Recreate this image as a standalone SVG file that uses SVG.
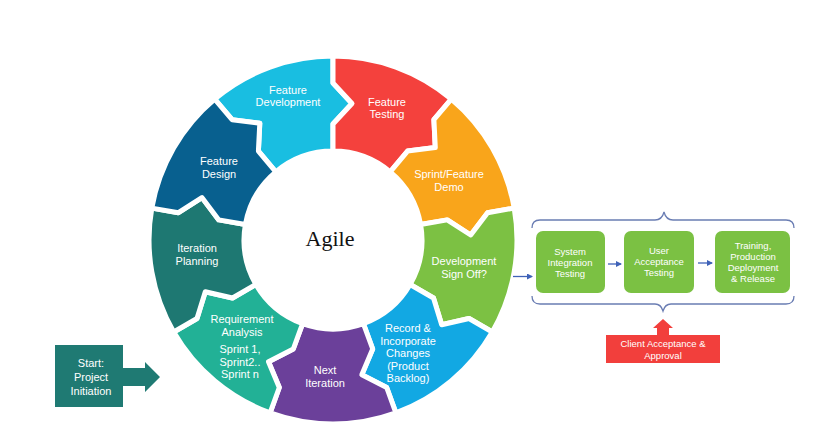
<svg xmlns="http://www.w3.org/2000/svg" width="840" height="437" viewBox="0 0 840 437">
<style>
.seg{stroke:#fff;stroke-width:5;stroke-linejoin:round}
.t{font-family:"Liberation Sans",Arial,sans-serif;fill:#fff;text-anchor:middle}
.r{font-size:11px}
.b{font-size:9.5px}
.box{fill:#7BC143}
.con{stroke:#3F62B8;stroke-width:1.3;fill:none}
.brace{stroke:#6A7DB3;stroke-width:1.3;fill:none}
</style>
<defs>
<marker id="ah" markerWidth="6" markerHeight="6" refX="5" refY="3" orient="auto" markerUnits="userSpaceOnUse">
<path d="M0,0 L6,3 L0,6 Z" fill="#3F62B8"/>
</marker>
</defs>
<rect width="840" height="437" fill="#fff"/>
<g id="feature-development">
<path class="seg" fill="#19BEE1" d="M214.7,99.1 A184,184 0 0 1 333,56 L333,83 L352,103.5 L333,124 L333,151 A89,89 0 0 0 275.8,171.8 L258.4,151.1 L259.8,123.2 L232.1,119.7 Z"/>
<text class="t r"><tspan x="288" y="93.5">Feature</tspan><tspan x="288" y="106">Development</tspan></text>
</g>
<g id="feature-testing">
<path class="seg" fill="#F4413D" d="M333,56 A184,184 0 0 1 451.3,99.1 L433.9,119.7 L435.3,147.6 L407.6,151.1 L390.2,171.8 A89,89 0 0 0 333,151 L333,124 L352,103.5 L333,83 Z"/>
<text class="t r"><tspan x="387" y="105.5">Feature</tspan><tspan x="387" y="118">Testing</tspan></text>
</g>
<g id="sprint-demo">
<path class="seg" fill="#F9A51B" d="M451.3,99.1 A184,184 0 0 1 514.2,208.1 L487.6,212.7 L470.7,235 L447.2,219.9 L420.6,224.5 A89,89 0 0 0 390.2,171.8 L407.6,151.1 L435.3,147.6 L433.9,119.7 Z"/>
<text class="t r"><tspan x="449" y="178">Sprint/Feature</tspan><tspan x="449" y="190.5">Demo</tspan></text>
</g>
<g id="dev-signoff">
<path class="seg" fill="#7CC143" d="M514.2,208.1 A184,184 0 0 1 492.3,332 L469,318.5 L441.7,324.7 L433.5,298 L410.1,284.5 A89,89 0 0 0 420.6,224.5 L447.2,219.9 L470.7,235 L487.6,212.7 Z"/>
<text class="t r"><tspan x="464" y="265">Development</tspan><tspan x="464" y="277.5">Sign Off?</tspan></text>
</g>
<g id="record-changes">
<path class="seg" fill="#12A8E3" d="M492.3,332 A184,184 0 0 1 395.9,412.9 L386.7,387.5 L361.8,374.8 L372.7,349 L363.4,323.6 A89,89 0 0 0 410.1,284.5 L433.5,298 L441.7,324.7 L469,318.5 Z"/>
<text class="t r"><tspan x="408" y="332">Record &amp;</tspan><tspan x="408" y="344.5">Incorporate</tspan><tspan x="408" y="357">Changes</tspan><tspan x="408" y="369.5">(Product</tspan><tspan x="408" y="382">Backlog)</tspan></text>
</g>
<g id="next-iteration">
<path class="seg" fill="#6B409A" d="M395.9,412.9 A184,184 0 0 1 270.1,412.9 L279.3,387.5 L268.5,361.8 L293.3,349 L302.6,323.6 A89,89 0 0 0 363.4,323.6 L372.7,349 L361.8,374.8 L386.7,387.5 Z"/>
<text class="t r"><tspan x="325" y="374">Next</tspan><tspan x="325" y="387">Iteration</tspan></text>
</g>
<g id="requirement-analysis">
<path class="seg" fill="#22B196" d="M270.1,412.9 A184,184 0 0 1 173.7,332 L197,318.5 L205.3,291.8 L232.5,298 L255.9,284.5 A89,89 0 0 0 302.6,323.6 L293.3,349 L268.5,361.8 L279.3,387.5 Z"/>
<text class="t r"><tspan x="242" y="323">Requirement</tspan><tspan x="242" y="336">Analysis</tspan></text>
<text class="t r"><tspan x="240" y="353">Sprint  1,</tspan><tspan x="240" y="365.5">Sprint2..</tspan><tspan x="240" y="378">Sprint  n</tspan></text>
</g>
<g id="iteration-planning">
<path class="seg" fill="#1E7872" d="M173.7,332 A184,184 0 0 1 151.8,208.1 L178.4,212.7 L201.9,197.6 L218.8,219.9 L245.4,224.5 A89,89 0 0 0 255.9,284.5 L232.5,298 L205.3,291.8 L197,318.5 Z"/>
<text class="t r"><tspan x="197" y="252">Iteration</tspan><tspan x="197" y="265">Planning</tspan></text>
</g>
<g id="feature-design">
<path class="seg" fill="#08608F" d="M151.8,208.1 A184,184 0 0 1 214.7,99.1 L232.1,119.7 L259.8,123.2 L258.4,151.1 L275.8,171.8 A89,89 0 0 0 245.4,224.5 L218.8,219.9 L201.9,197.6 L178.4,212.7 Z"/>
<text class="t r"><tspan x="219" y="165">Feature</tspan><tspan x="219" y="178">Design</tspan></text>
</g>
<g id="agile">
<text x="330" y="246" font-family="'Liberation Serif',serif" font-size="22" fill="#111" text-anchor="middle">Agile</text>
</g>
<g id="start">
<rect x="55" y="345" width="68" height="62" fill="#1F7A73"/>
<polygon points="122,368 145,368 145,362 160,377 145,392 145,386 122,386" fill="#1F7A73"/>
<text class="t r"><tspan x="91" y="367">Start:</tspan><tspan x="91" y="381">Project</tspan><tspan x="91" y="395">Initiation</tspan></text>
</g>
<g id="sit">
<rect class="box" x="536" y="231" width="69" height="62" rx="7"/>
<text class="t b"><tspan x="570" y="254.5">System</tspan><tspan x="570" y="265.5">Integration</tspan><tspan x="570" y="276.5">Testing</tspan></text>
</g>
<g id="uat">
<rect class="box" x="624" y="231" width="70" height="62" rx="7"/>
<text class="t b"><tspan x="659" y="253.5">User</tspan><tspan x="659" y="264.5">Acceptance</tspan><tspan x="659" y="275.5">Testing</tspan></text>
</g>
<g id="release">
<rect class="box" x="715" y="231" width="75" height="62" rx="7"/>
<text class="t b"><tspan x="753" y="249">Training,</tspan><tspan x="753" y="260">Production</tspan><tspan x="753" y="271">Deployment</tspan><tspan x="753" y="282">&amp; Release</tspan></text>
</g>
<g id="client">
<rect x="606" y="335" width="114" height="28" fill="#F23F3C"/>
<polygon points="657,335 657,328 653,328 663,319 673,328 669,328 669,335" fill="#F23F3C"/>
<text class="t b"><tspan x="663" y="347">Client  Acceptance &amp;</tspan><tspan x="663" y="359">Approval</tspan></text>
</g>
<g id="connectors">
<line class="con" x1="513" y1="276.5" x2="532" y2="276.5" marker-end="url(#ah)"/>
<line class="con" x1="608" y1="264" x2="621" y2="264" marker-end="url(#ah)"/>
<line class="con" x1="698" y1="263" x2="712" y2="263" marker-end="url(#ah)"/>
<path class="brace" d="M532,228 Q532,220 540,220 L655,220 Q662,220 664,212 Q666,220 673,220 L786,220 Q794,220 794,228"/>
<path class="brace" d="M532,296 Q532,304 540,304 L655,304 Q661,304 663,311 Q665,304 671,304 L786,304 Q794,304 794,296"/>
</g>
</svg>
